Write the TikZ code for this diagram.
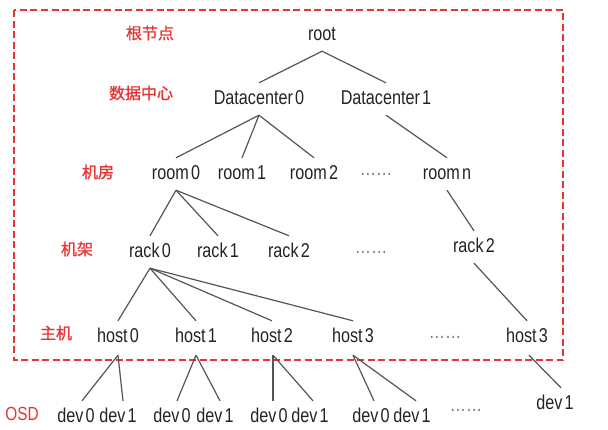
\documentclass[tikz,border=0pt]{standalone}
\usepackage{fontspec}
\setmainfont{Liberation Sans}[FakeStretch=0.81, WordSpace=0.5]
\newfontfamily\cjk{Noto Sans CJK SC}[FakeBold=1.2]
\definecolor{lbl}{RGB}{232,52,52}
\definecolor{txt}{RGB}{35,35,35}
\definecolor{lin}{RGB}{85,85,85}
\tikzset{
  item/.style={font=\fontsize{20}{24}\selectfont, text=txt, text height=14pt, text depth=4pt, inner xsep=0pt, inner ysep=7pt},
  dotsy/.style={font=\fontsize{20}{24}\selectfont, text=lin!80, inner sep=0pt},
  lvl/.style={font=\cjk\fontsize{16}{18}\selectfont, text=lbl, inner sep=0pt},
  osd/.style={font=\fontsize{19}{22}\selectfont, text=lbl, inner sep=0pt},
  edge/.style={draw=lin, line width=1.2pt},
  frame/.style={draw=lbl, line width=2.8pt, dash pattern=on 7pt off 3.5pt}
}
\begin{document}
\begin{tikzpicture}[x=1pt,y=-1pt]
\useasboundingbox (0,0) rectangle (608,429);
\draw[frame] (14,10) rectangle (563,360);
% level labels
\node[lvl] (l1) at (150,33) {根节点};
\node[lvl] (l2) at (141,93) {数据中心};
\node[lvl] (l3) at (98,172) {机房};
\node[lvl] (l4) at (77,249) {机架};
\node[lvl] (l5) at (56,333) {主机};
\node[osd] (l6) at (22,414) {OSD};
% nodes
\node[item] (root) at (322,35) {root};
\node[item] (dc0) at (259,99) {Datacenter 0};
\node[item] (dc1) at (386,99) {Datacenter 1};
\node[item] (r0) at (176,174) {room 0};
\node[item] (r1) at (242,174) {room 1};
\node[item] (r2) at (314,174) {room 2};
\node[dotsy] (rd) at (376,174) {……};
\node[item] (rn) at (447,174) {room n};
\node[item] (k0) at (150,252) {rack 0};
\node[item] (k1) at (218,252) {rack 1};
\node[item] (k2) at (289,252) {rack 2};
\node[dotsy] (kd) at (371,252) {……};
\node[item] (k2r) at (474,247) {rack 2};
\node[item] (h0) at (118,337) {host 0};
\node[item] (h1) at (196,337) {host 1};
\node[item] (h2) at (272,337) {host 2};
\node[item] (h3) at (353,337) {host 3};
\node[dotsy] (hd) at (445,337) {……};
\node[item] (h3r) at (527,337) {host 3};
\node[item] (d00) at (76,417) {dev 0};
\node[item] (d01) at (118,417) {dev 1};
\node[item] (d10) at (172,417) {dev 0};
\node[item] (d11) at (215,417) {dev 1};
\node[item] (d20) at (269,417) {dev 0};
\node[item] (d21) at (310,417) {dev 1};
\node[item] (d30) at (371,417) {dev 0};
\node[item] (d31) at (412,417) {dev 1};
\node[dotsy] (dd) at (466,410) {……};
\node[item] (d1r) at (555,404) {dev 1};
% edges
\draw[edge] (root.south) -- (dc0.north);
\draw[edge] (root.south) -- (dc1.north);
\draw[edge] (dc0.south) -- (r0.north);
\draw[edge] (dc0.south) -- (r1.north);
\draw[edge] (dc0.south) -- (r2.north);
\draw[edge] (dc1.south) -- (rn.north);
\draw[edge] (rn.south) -- (k2r.north);
\draw[edge] (r0.south) -- (k0.north);
\draw[edge] (r0.south) -- (k1.north);
\draw[edge] (r0.south) -- (k2.north);
\draw[edge] (k0.south) -- (h0.north);
\draw[edge] (k0.south) -- (h1.north);
\draw[edge] (k0.south) -- (h2.north);
\draw[edge] (k0.south) -- (h3.north);
\draw[edge] (k2r.south) -- (h3r.north);
\draw[edge] ([yshift=-2pt]h0.south) -- ([xshift=6pt]d00.north);
\draw[edge] ([yshift=-2pt]h0.south) -- ([xshift=5pt]d01.north);
\draw[edge] ([yshift=-2pt]h1.south) -- ([xshift=5pt]d10.north);
\draw[edge] ([yshift=-2pt]h1.south) -- ([xshift=5pt]d11.north);
\draw[edge] ([yshift=-2pt,xshift=1pt]h2.south) -- ([xshift=4pt]d20.north);
\draw[edge] ([yshift=-2pt,xshift=1pt]h2.south) -- ([xshift=3pt]d21.north);
\draw[edge] ([yshift=-2pt]h3.south) -- ([xshift=3pt]d30.north);
\draw[edge] ([yshift=-2pt]h3.south) -- ([xshift=4pt]d31.north);
\draw[edge] ([yshift=-2pt,xshift=2pt]h3r.south) -- ([xshift=6pt]d1r.north);
\end{tikzpicture}
\end{document}
